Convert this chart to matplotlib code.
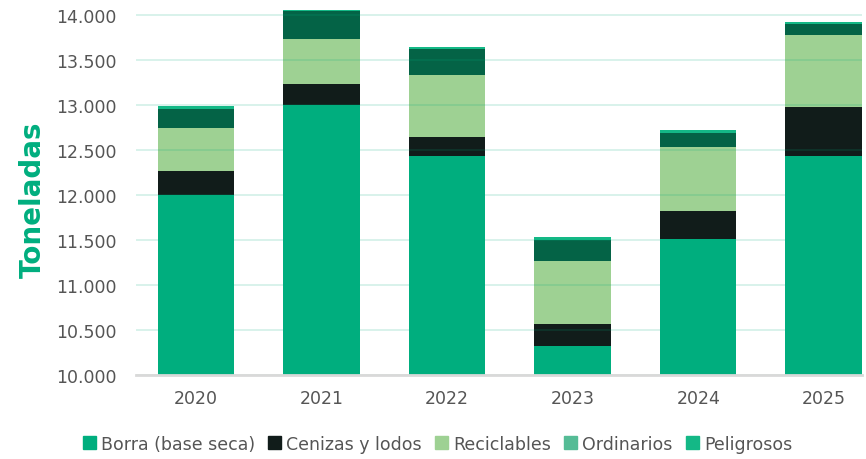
import matplotlib.pyplot as plt
from matplotlib.patches import Patch
from matplotlib.ticker import FuncFormatter
import numpy as np

#%% datos
years = ['2020', '2021', '2022', '2023', '2024', '2025']
borra = [12000, 13000, 12433, 10322, 11511, 12433]
cenizas = [267, 233, 211, 245, 311, 545]
reciclables = [477, 500, 689, 700, 711, 800]
ordinarios = [212, 311, 289, 233, 156, 122]
peligrosos = [33, 12, 22, 33, 33, 22]

series = [borra, cenizas, reciclables, ordinarios, peligrosos]
nombres = ['Borra (base seca)', 'Cenizas y lodos', 'Reciclables', 'Ordinarios', 'Peligrosos']
colores_barra = ['#00ae7e', '#111c1a', '#9ed193', '#046346', '#14b886']
colores_leyenda = ['#00ae7e', '#111c1a', '#9ed193', '#55bc96', '#14b886']

#%% figura
fig = plt.figure(figsize=(8.66, 4.6), dpi=100)
ax = fig.add_axes([0.157, 0.1826, 0.838, 0.8022])

x = np.arange(len(years))
base = np.zeros(len(years))
for vals, col in zip(series, colores_barra):
    ax.bar(x, vals, width=0.61, bottom=base, color=col, zorder=2)
    base = base + np.array(vals)

ax.set_ylim(10000, 14100)
ax.set_xlim(-0.478, 5.302)
ax.set_yticks(np.arange(10000, 14001, 500))
ax.yaxis.set_major_formatter(FuncFormatter(lambda v, p: f'{int(v):,}'.replace(',', '.')))
ax.set_xticks(x)
ax.set_xticklabels(years)

# rejilla encima de las barras, muy suave
ax.grid(axis='y', color='#00ae7e', alpha=0.18, linewidth=1.2, zorder=3)
ax.set_axisbelow(False)
for s in ['top', 'right', 'left']:
    ax.spines[s].set_visible(False)
ax.spines['bottom'].set_color('#d9d9d9')
ax.spines['bottom'].set_linewidth(2)
ax.spines['bottom'].set_zorder(4)
ax.tick_params(axis='both', length=0, labelsize=12.5, labelcolor='#555555')
ax.tick_params(axis='x', pad=10)
ax.tick_params(axis='y', pad=14)

fig.text(0.038, 0.565, 'Toneladas', rotation=90, ha='center', va='center',
         fontsize=20, fontweight='bold', color='#00ae7e')

handles = [Patch(color=c, label=n) for c, n in zip(colores_leyenda, nombres)]
fig.legend(handles=handles, loc='center', bbox_to_anchor=(0.505, 0.033), ncol=5,
           frameon=False, fontsize=12.5, handlelength=0.75, handleheight=0.75,
           handletextpad=0.3, columnspacing=0.75, labelcolor='#555555')

fig.savefig('out.png', dpi=100)
